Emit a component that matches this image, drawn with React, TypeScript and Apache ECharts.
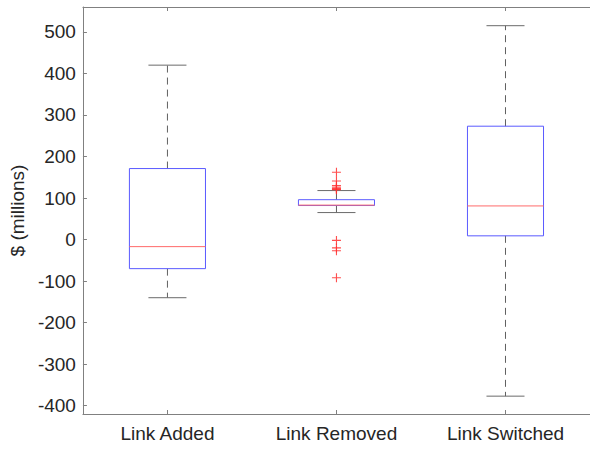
import React, { useEffect, useRef } from "react";
import * as echarts from "echarts";

const categories = ["Link Added", "Link Removed", "Link Switched"];
const lowerWhisker = [-140, 65, -377];
const q1 = [-70, 82, 9];
const median = [-17, 83, 81];
const q3 = [171, 96, 273];
const upperWhisker = [420, 118, 515];
const removedOutliers = [162, 141, 130, 126, 123, 121, 120, -2, -20, -27, -92];
const yTicks = [-400, -300, -200, -100, 0, 100, 200, 300, 400, 500];

const PLUS = "path://M3.5,0h1v3.5h3.5v1h-3.5v3.5h-1v-3.5h-3.5v-1h3.5z";

export default function App() {
  const ref = useRef<HTMLDivElement>(null);
  useEffect(() => {
    if (!ref.current) return;
    const chart = echarts.init(ref.current, undefined, { renderer: "svg" });
    const font = "'Liberation Sans', Arial, Helvetica, sans-serif";
    const axisColor = "#808080";
    const textColor = "#262626";
    const boxData = categories.map((_, i) => [i, lowerWhisker[i], q1[i], median[i], q3[i], upperWhisker[i]]);
    const outlierData = removedOutliers.map((v) => [1, v]);
    chart.setOption({
      animation: false,
      grid: { left: 81, right: -8.5, top: 7, bottom: 35, containLabel: false },
      xAxis: [
        {
          type: "category",
          data: categories,
          position: "bottom",
          boundaryGap: true,
          axisLine: { show: true, onZero: false, lineStyle: { color: axisColor, width: 1 } },
          axisTick: { show: true, inside: true, length: 4, alignWithLabel: true, lineStyle: { color: axisColor } },
          axisLabel: { color: textColor, fontSize: 19, fontFamily: font, margin: 10 },
          splitLine: { show: false },
        },
        {
          type: "category",
          data: categories,
          position: "top",
          boundaryGap: true,
          axisLine: { show: true, onZero: false, lineStyle: { color: axisColor, width: 1 } },
          axisTick: { show: true, inside: true, length: 4, alignWithLabel: true, lineStyle: { color: axisColor } },
          axisLabel: { show: false },
          splitLine: { show: false },
        },
      ],
      yAxis: {
        type: "value",
        min: -420,
        max: 560,
        name: "$ (millions)",
        nameLocation: "middle",
        nameGap: 45,
        nameTextStyle: { color: textColor, fontSize: 19, fontFamily: font },
        axisLine: { show: true, onZero: false, lineStyle: { color: axisColor, width: 1 } },
        axisTick: { show: true, inside: true, length: 4, customValues: yTicks, lineStyle: { color: axisColor } },
        axisLabel: { color: textColor, fontSize: 19, fontFamily: font, margin: 7, customValues: yTicks },
        splitLine: { show: false },
      },
      series: [
        {
          type: "custom",
          xAxisIndex: 0,
          data: boxData,
          encode: { x: 0, y: [1, 2, 3, 4, 5] },
          renderItem: (params: any, api: any) => {
            const i = api.value(0);
            const band = api.size([1, 0])[0];
            const half = band * 0.225;
            const capHalf = band * 0.1125;
            const pLow = api.coord([i, api.value(1)]);
            const pQ1 = api.coord([i, api.value(2)]);
            const pMed = api.coord([i, api.value(3)]);
            const pQ3 = api.coord([i, api.value(4)]);
            const pHigh = api.coord([i, api.value(5)]);
            const cx = pLow[0];
            const whiskerStyle = { stroke: "#606060", lineWidth: 1, lineDash: [7, 5] };
            const capStyle = { stroke: "#6a6a6a", lineWidth: 1 };
            return {
              type: "group",
              children: [
                { type: "line", shape: { x1: cx, y1: pQ3[1], x2: cx, y2: pHigh[1] }, style: whiskerStyle },
                { type: "line", shape: { x1: cx, y1: pQ1[1], x2: cx, y2: pLow[1] }, style: whiskerStyle },
                { type: "line", shape: { x1: cx - capHalf, y1: pHigh[1], x2: cx + capHalf, y2: pHigh[1] }, style: capStyle },
                { type: "line", shape: { x1: cx - capHalf, y1: pLow[1], x2: cx + capHalf, y2: pLow[1] }, style: capStyle },
                {
                  type: "rect",
                  shape: { x: cx - half, y: pQ3[1], width: half * 2, height: pQ1[1] - pQ3[1] },
                  style: { fill: "none", stroke: "#5a5aff", lineWidth: 1 },
                },
                {
                  type: "line",
                  shape: { x1: cx - half, y1: pMed[1], x2: cx + half, y2: pMed[1] },
                  style: { stroke: "#ff6a6a", lineWidth: 1 },
                },
              ],
            };
          },
          z: 2,
        },
        {
          type: "scatter",
          xAxisIndex: 0,
          data: outlierData,
          symbol: PLUS,
          symbolSize: 9,
          itemStyle: { color: "#ff3030", opacity: 0.85 },
          z: 3,
        },
      ],
    });
    return () => chart.dispose();
  }, []);
  return (
    <div
      ref={ref}
      style={{ position: "fixed", left: 0, top: 0, width: 590, height: 449, background: "#fff" }}
    />
  );
}
